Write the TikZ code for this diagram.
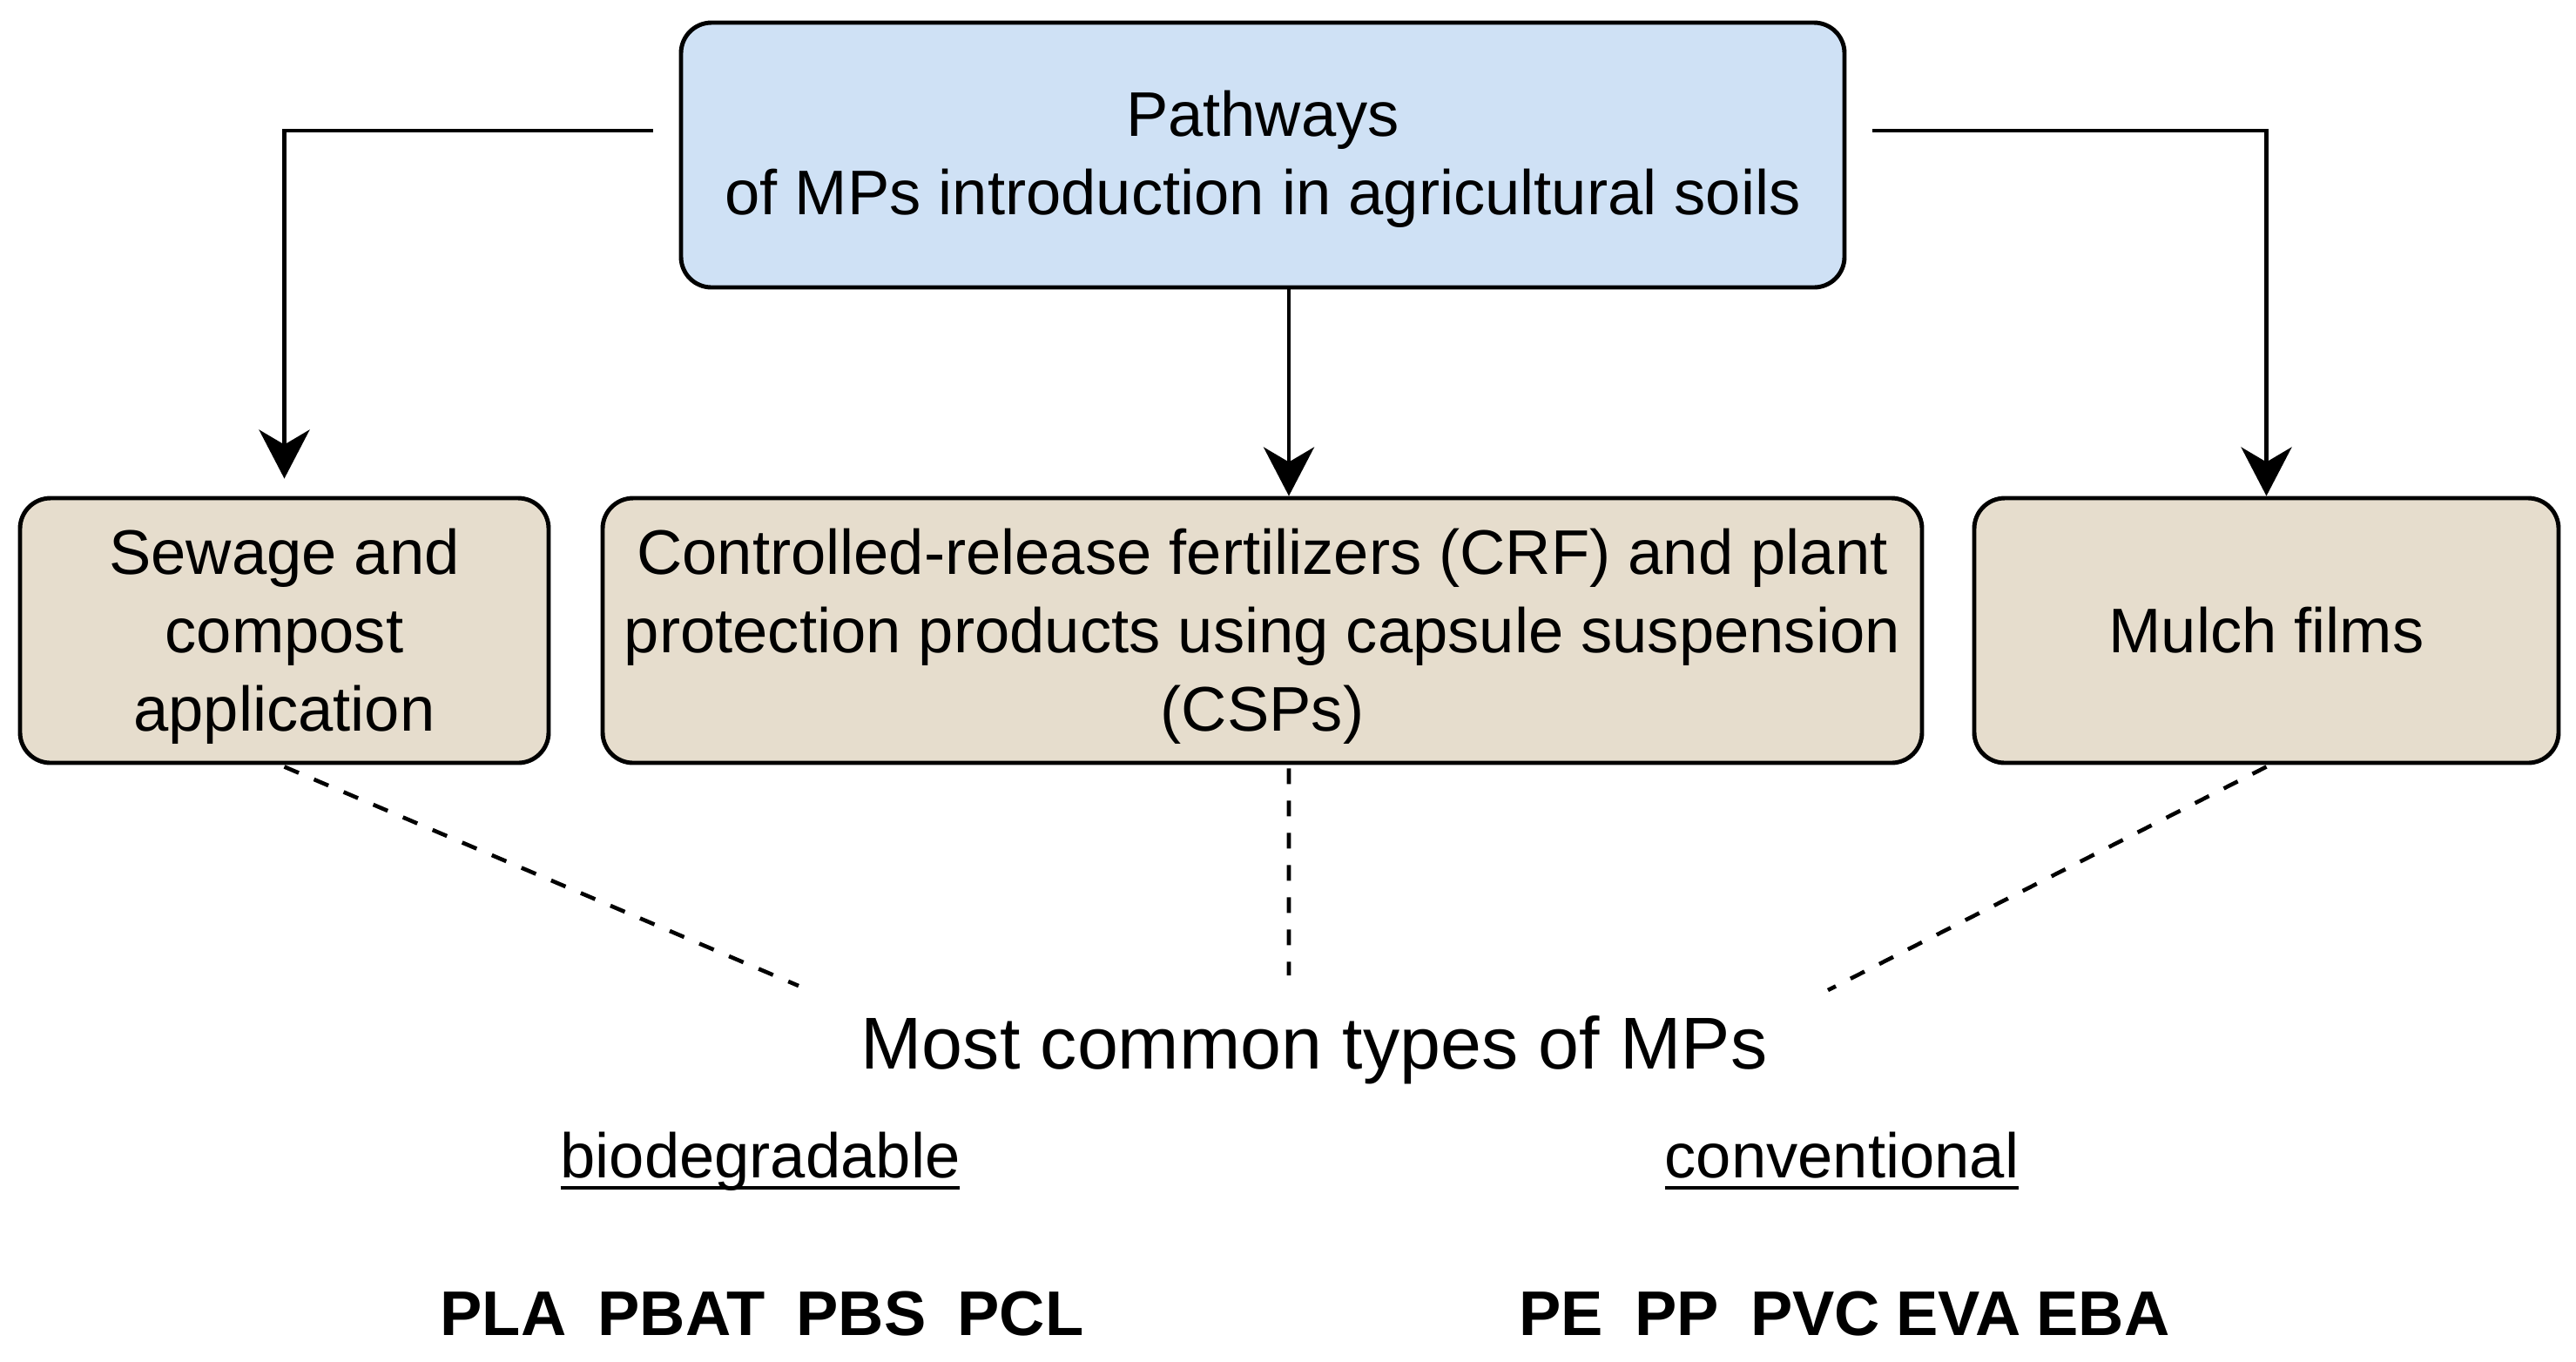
\documentclass[tikz,border=0pt]{standalone}
\usepackage{fontspec}
\setmainfont{Liberation Sans}
\usepackage{tikz}
\usetikzlibrary{arrows.meta,positioning,calc}
\definecolor{pathBlue}{RGB}{207,225,245}
\definecolor{pathBeige}{RGB}{230,221,205}
\newcommand{\ulword}[1]{\setbox0\hbox{#1}\rlap{\rule[-0.19em]{\wd0}{1pt}}\box0}

\begin{document}
\begin{tikzpicture}[
  pbox/.style={draw=black, line width=1.4pt, rounded corners=0.35cm, align=center,
    inner sep=0pt, minimum height=3.04cm, font=\fontsize{20.6}{25.5}\selectfont},
  multi/.style={text depth=0.4pt},
  arr/.style={line width=1.4pt, -{Stealth[length=5.6mm,width=5.8mm,inset=1.7mm]}},
  dsh/.style={line width=1.3pt, dash pattern=on 0.18cm off 0.19cm},
  lbl/.style={anchor=base, font=\fontsize{20.6}{25.5}\selectfont}
]
\useasboundingbox (0,0) rectangle (29.58,-15.63);

% boxes
\node[pbox, multi, text depth=1.5pt, fill=pathBlue, minimum width=13.36cm] (top) at (14.50,-1.78)
  {Pathways\\of MPs introduction in agricultural soils};
\node[pbox, multi, fill=pathBeige, minimum width=6.07cm] (sewage) at (3.265,-7.24)
  {Sewage and\\compost\\application};
\node[pbox, multi, fill=pathBeige, minimum width=15.15cm] (crf) at (14.495,-7.24)
  {Controlled-release fertilizers (CRF) and plant\\protection products using capsule suspension\\(CSPs)};
\node[pbox, fill=pathBeige, minimum width=6.71cm] (mulch) at (26.025,-7.24) {Mulch films};

% pathways
\draw[arr, shorten <=0.3cm, shorten >=0.2cm] ([yshift=0.28cm]top.west) -| (sewage.north);
\draw[arr] ([xshift=0.3cm]top.south) -- ([xshift=0.3cm]top.south |- crf.north);
\draw[arr, shorten <=0.3cm] ([yshift=0.28cm]top.east) -| (mulch.north);

% types of MPs
\node[anchor=base, font=\fontsize{24}{29}\selectfont] (types) at (15.09,-12.27) {Most common types of MPs};
\coordinate (tL) at (9.17,-11.32);
\coordinate (tM) at (14.80,-11.20);
\coordinate (tR) at (20.99,-11.37);
\draw[dsh] ([yshift=-0.02cm]sewage.south) -- (tL);
\draw[dsh] ([xshift=0.305cm,yshift=-0.04cm]crf.south) -- (tM);
\draw[dsh] ([yshift=-0.02cm]mulch.south) -- (tR);

\node[lbl] (bio) at (8.73,-13.52) {\ulword{biodegradable}};
\node[lbl] (conv) at (21.15,-13.52) {\ulword{conventional}};
\node[lbl, font=\fontsize{20.6}{25.5}\selectfont\bfseries] (bioList) at (8.75,-15.33)
  {PLA\hspace{0.5em}PBAT\hspace{0.5em}PBS\hspace{0.5em}PCL};
\node[lbl, font=\fontsize{20.6}{25.5}\selectfont\bfseries] (convList) at (21.18,-15.33)
  {PE\hspace{0.5em}PP\hspace{0.5em}PVC\hspace{0.25em}EVA\hspace{0.25em}EBA};
\end{tikzpicture}
\end{document}
